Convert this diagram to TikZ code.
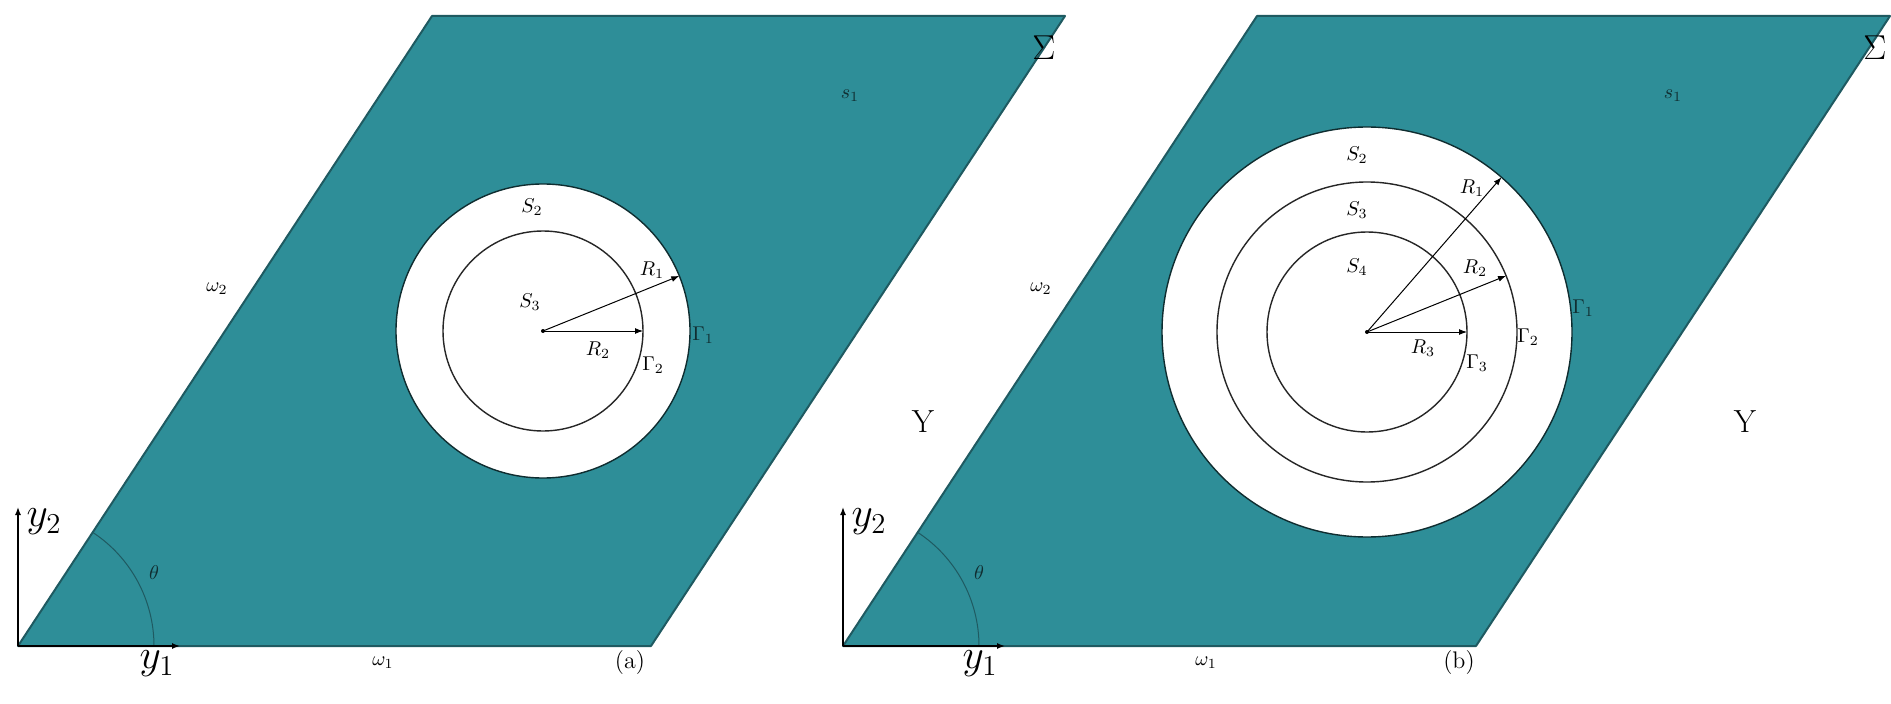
\documentclass[tikz,border=0pt]{standalone}
\usepackage{tikz}
\usetikzlibrary{arrows.meta}
\definecolor{Cell}{HTML}{2E8E98}
\definecolor{Edge}{HTML}{1F5A61}

\begin{document}
\begin{tikzpicture}[x=0.5pt,y=0.5pt,>={Latex[length=4pt,width=3pt]},
  cell/.style={fill=Cell,draw=Edge,line width=1pt,line join=round},
  hole/.style={fill=white,draw=Edge!50!black,line width=0.7pt},
  ring/.style={draw=black!85,line width=0.7pt},
  rad/.style={->,line width=0.5pt},
  lab/.style={font=\fontsize{10}{11}\selectfont,inner sep=1pt},
  darklab/.style={lab,text=Edge!50!black},
  biglab/.style={font=\fontsize{16}{18}\selectfont,inner sep=1pt},
  axlab/.style={font=\fontsize{21}{23}\selectfont,inner sep=1pt},
  panellab/.style={font=\fontsize{12}{14}\selectfont,inner sep=1pt}]
  \useasboundingbox (0,0) rectangle (1891,703);

  % (a): cell with one coated inclusion
  \coordinate (oa) at (18,57);
  \draw[cell] (oa) -- (651,57) -- (1065,687) -- (432,687) -- cycle;
  \draw[Edge,line width=0.5pt] (oa) ++(136,0) arc[start angle=0,end angle=56.7,radius=136];
  \coordinate (ca) at (543,372);
  \draw[hole] (ca) circle[radius=147];
  \draw[ring] (ca) circle[radius=100];
  \path (ca) ++(22:147) coordinate (ca1);
  \path (ca) ++(0:100) coordinate (ca2);
  \draw[rad] (ca) -- (ca1);
  \draw[rad] (ca) -- (ca2);
  \fill (ca) circle[radius=2];
  \coordinate (ay1) at (180,57);
  \coordinate (ay2) at (18,196);
  \draw[->,line width=0.7pt] (oa) -- (ay1);
  \draw[->,line width=0.7pt] (oa) -- (ay2);

  \node[lab] (sa2) at (532,496) {$S_2$};
  \node[lab] (sa3) at (530,401) {$S_3$};
  \node[lab] (ra1) at (652,433) {$R_1$};
  \node[lab] (ra2) at (598,353) {$R_2$};
  \node[lab] (ga2) at (653,338) {$\Gamma_2$};
  \node[darklab] (ga1) at (703,368) {$\Gamma_1$};
  \node[darklab] (sa1) at (850,607) {$s_1$};
  \node[biglab] (siga) at (1044,655) {$\Sigma$};
  \node[lab] (wa2) at (217,414) {$\omega_2$};
  \node[biglab] (ya) at (923,281) {Y};
  \node[darklab] (tha) at (154,130) {$\theta$};
  \node[axlab] (ya2) at (44,181) {$y_2$};
  \node[axlab] (ya1) at (157,39) {$y_1$};
  \node[lab] (wa1) at (383,40) {$\omega_1$};
  \node[panellab] (capa) at (630,40) {(a)};

  % (b): cell with two coatings
  \coordinate (ob) at (843,57);
  \draw[cell] (ob) -- (1476,57) -- (1890,687) -- (1257,687) -- cycle;
  \draw[Edge,line width=0.5pt] (ob) ++(136,0) arc[start angle=0,end angle=56.7,radius=136];
  \coordinate (cb) at (1367,371);
  \draw[hole] (cb) circle[radius=205];
  \draw[ring] (cb) circle[radius=150];
  \draw[ring] (cb) circle[radius=100];
  \path (cb) ++(49:205) coordinate (cb1);
  \path (cb) ++(22:150) coordinate (cb2);
  \path (cb) ++(0:100) coordinate (cb3);
  \draw[rad] (cb) -- (cb1);
  \draw[rad] (cb) -- (cb2);
  \draw[rad] (cb) -- (cb3);
  \fill (cb) circle[radius=2];
  \coordinate (by1) at (1005,57);
  \coordinate (by2) at (843,196);
  \draw[->,line width=0.7pt] (ob) -- (by1);
  \draw[->,line width=0.7pt] (ob) -- (by2);

  \node[lab] (sb2) at (1357,548) {$S_2$};
  \node[lab] (sb3) at (1357,493) {$S_3$};
  \node[lab] (sb4) at (1357,436) {$S_4$};
  \node[lab] (rb1) at (1472,515) {$R_1$};
  \node[lab] (rb2) at (1475,435) {$R_2$};
  \node[lab] (rb3) at (1423,355) {$R_3$};
  \node[lab] (gb3) at (1477,340) {$\Gamma_3$};
  \node[lab] (gb2) at (1528,366) {$\Gamma_2$};
  \node[darklab] (gb1) at (1583,395) {$\Gamma_1$};
  \node[darklab] (sb1) at (1673,607) {$s_1$};
  \node[biglab] (sigb) at (1875,655) {$\Sigma$};
  \node[lab] (wb2) at (1041,414) {$\omega_2$};
  \node[biglab] (yb) at (1745,281) {Y};
  \node[darklab] (thb) at (979,130) {$\theta$};
  \node[axlab] (yb2) at (869,181) {$y_2$};
  \node[axlab] (yb1) at (980,39) {$y_1$};
  \node[lab] (wb1) at (1206,40) {$\omega_1$};
  \node[panellab] (capb) at (1459,40) {(b)};
\end{tikzpicture}
\end{document}
